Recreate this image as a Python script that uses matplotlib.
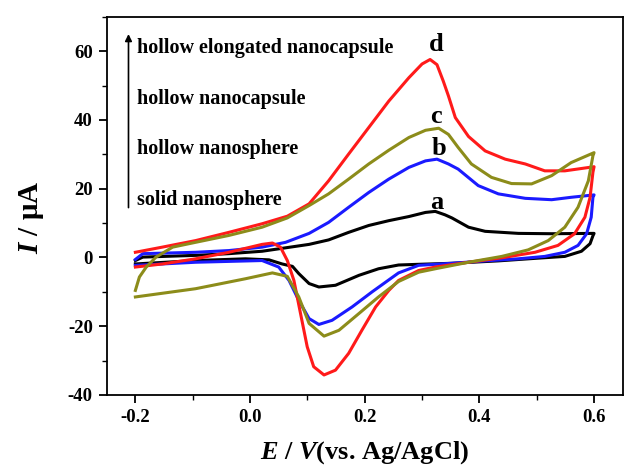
import matplotlib
matplotlib.use("Agg")
import matplotlib.pyplot as plt
from matplotlib.ticker import MultipleLocator

plt.rcParams['font.family'] = ['Liberation Serif', 'DejaVu Serif']
plt.rcParams['font.weight'] = 'bold'
plt.rcParams['mathtext.fontset'] = 'custom'
plt.rcParams['mathtext.it'] = 'Liberation Serif:italic:bold'
plt.rcParams['mathtext.rm'] = 'Liberation Serif:bold'

# ---- data (E in V, I in uA); forward (anodic) then reverse (cathodic) sweep ----
a_fwd_E = [-0.2, -0.187, -0.095, -0.037, 0.021, 0.062, 0.103, 0.137, 0.172, 0.207, 0.242, 0.277, 0.306, 0.323, 0.34, 0.352, 0.381, 0.41, 0.468, 0.526, 0.6]
a_fwd_I = [-0.9, 0.1, 0.6, 1.1, 1.8, 2.8, 3.8, 5.1, 7.3, 9.3, 10.7, 11.9, 13.1, 13.4, 12.4, 11.5, 8.8, 7.6, 7.0, 6.9, 7.0]
a_rev_E = [0.6, 0.598, 0.593, 0.578, 0.549, 0.503, 0.433, 0.352, 0.294, 0.259, 0.224, 0.19, 0.149, 0.12, 0.103, 0.085, 0.074, 0.056, 0.033, -0.008, -0.095, -0.2]
a_rev_I = [7.0, 6.3, 4.0, 1.8, 0.3, -0.2, -1.0, -1.7, -2.0, -2.2, -3.3, -5.2, -8.1, -8.6, -7.6, -4.7, -2.6, -1.9, -0.7, -0.4, -0.9, -1.9]

b_fwd_E = [-0.2, -0.187, -0.095, -0.037, 0.021, 0.062, 0.103, 0.137, 0.172, 0.207, 0.242, 0.277, 0.306, 0.326, 0.346, 0.363, 0.398, 0.433, 0.48, 0.526, 0.56, 0.6]
b_fwd_I = [-0.6, 1.1, 1.5, 2.0, 3.0, 4.4, 7.0, 10.2, 14.6, 18.9, 22.8, 26.2, 28.1, 28.6, 27.2, 25.7, 20.9, 18.5, 17.2, 16.8, 17.5, 18.2]
b_rev_E = [0.6, 0.598, 0.595, 0.587, 0.572, 0.549, 0.514, 0.468, 0.41, 0.352, 0.294, 0.259, 0.213, 0.178, 0.143, 0.12, 0.103, 0.085, 0.068, 0.05, 0.021, -0.095, -0.2]
b_rev_I = [18.2, 17.5, 11.7, 6.9, 3.5, 1.5, 0.3, -0.4, -1.0, -1.7, -2.3, -4.5, -10.0, -14.4, -18.3, -19.5, -17.8, -12.5, -6.7, -2.8, -0.9, -1.4, -2.3]

c_fwd_E = [-0.2, -0.193, -0.181, -0.164, -0.135, -0.095, -0.037, 0.021, 0.065, 0.103, 0.137, 0.172, 0.207, 0.242, 0.277, 0.306, 0.329, 0.346, 0.363, 0.386, 0.421, 0.456, 0.491, 0.526, 0.56, 0.6]
c_fwd_I = [-9.6, -5.7, -2.8, 0.1, 3.0, 4.4, 6.4, 8.8, 11.5, 15.1, 18.5, 22.8, 27.2, 31.2, 34.9, 37.0, 37.6, 35.8, 32.0, 27.2, 23.3, 21.5, 21.4, 23.8, 27.6, 30.5]
c_rev_E = [0.6, 0.598, 0.59, 0.572, 0.549, 0.52, 0.485, 0.439, 0.381, 0.323, 0.294, 0.259, 0.224, 0.19, 0.155, 0.129, 0.103, 0.085, 0.065, 0.039, -0.008, -0.095, -0.2]
c_rev_I = [30.5, 29.6, 22.3, 14.6, 8.8, 4.9, 2.2, 0.3, -1.4, -3.3, -4.3, -7.0, -11.5, -16.3, -21.2, -22.9, -19.2, -11.5, -5.5, -4.5, -6.2, -9.1, -11.5]

d_fwd_E = [-0.2, -0.153, -0.095, -0.037, 0.021, 0.065, 0.103, 0.137, 0.172, 0.207, 0.242, 0.277, 0.30, 0.314, 0.326, 0.337, 0.346, 0.358, 0.381, 0.41, 0.445, 0.48, 0.514, 0.549, 0.6]
d_fwd_I = [1.5, 3.0, 4.9, 7.3, 9.8, 12.0, 15.6, 22.3, 30.1, 37.8, 45.5, 52.3, 56.3, 57.6, 56.1, 51.3, 47.0, 40.7, 35.2, 31.0, 28.6, 27.2, 25.2, 25.2, 26.4]
d_rev_E = [0.6, 0.598, 0.593, 0.584, 0.566, 0.537, 0.497, 0.439, 0.381, 0.323, 0.294, 0.259, 0.242, 0.219, 0.195, 0.172, 0.149, 0.129, 0.111, 0.0997, 0.088, 0.0765, 0.065, 0.053, 0.039, 0.021, -0.037, -0.095, -0.153, -0.2]
d_rev_I = [26.4, 24.8, 17.5, 11.7, 6.9, 3.5, 1.5, -0.1, -1.4, -2.8, -3.8, -6.7, -9.6, -14.4, -21.2, -27.9, -32.8, -34.2, -31.8, -26.0, -16.3, -6.7, -0.9, 3.0, 4.2, 3.8, 1.5, -0.4, -1.9, -2.8]

labels = ['a', 'b', 'c', 'd']
label_pos_E = [0.325, 0.329, 0.325, 0.324]
label_pos_I = [16.0, 31.8, 41.0, 62.0]
legend_texts = ['hollow elongated nanocapsule', 'hollow nanocapsule', 'hollow nanosphere', 'solid nanosphere']
legend_I = [60.9, 46.0, 31.6, 16.8]

colors = ['black', '#1a1aff', '#ff1a1a', '#8c8c1a']

fig = plt.figure(figsize=(6.24, 4.69), dpi=100)
ax = fig.add_axes([0.171, 0.158, 0.827, 0.806])

series = [(a_fwd_E, a_fwd_I, a_rev_E, a_rev_I),
          (b_fwd_E, b_fwd_I, b_rev_E, b_rev_I),
          (d_fwd_E, d_fwd_I, d_rev_E, d_rev_I),
          (c_fwd_E, c_fwd_I, c_rev_E, c_rev_I)]
plot_colors = [colors[0], colors[1], colors[2], colors[3]]
for (fe, fi, re_, ri), col in zip(series, plot_colors):
    ax.plot(list(fe) + list(re_), list(fi) + list(ri), color=col, lw=2.2,
            solid_joinstyle='round')

for lab, le, li in zip(labels, label_pos_E, label_pos_I):
    ax.text(le, li, lab, fontsize=19, fontweight='bold', ha='center', va='center')

for t, li in zip(legend_texts, legend_I):
    ax.text(-0.198, li, t, fontsize=14.5, fontweight='bold', ha='left', va='center')

ax.annotate('', xy=(-0.212, 65.0), xytext=(-0.212, 14.5),
            arrowprops=dict(arrowstyle='-|>', color='black', lw=1.2,
                            mutation_scale=10, shrinkA=0, shrinkB=0))

ax.set_xlim(-0.25, 0.65)
ax.set_ylim(-40, 70)
ax.xaxis.set_minor_locator(MultipleLocator(0.1))
ax.yaxis.set_minor_locator(MultipleLocator(10))
ax.set_xticks([-0.2, 0.0, 0.2, 0.4, 0.6])
ax.set_xticklabels(['-0.2', '0.0', '0.2', '0.4', '0.6'])
ax.set_yticks([-40, -20, 0, 20, 40, 60])
ax.set_yticklabels(['-40', '-20', '0', '20', '40', '60'])
ax.tick_params(which='major', direction='out', length=6, width=1.3, labelsize=13.5, pad=4)
ax.tick_params(which='minor', direction='out', length=3.5, width=1.0)
for lab in ax.get_xticklabels() + ax.get_yticklabels():
    lab.set_fontweight('bold')
for s in ax.spines.values():
    s.set_linewidth(1.3)

ax.set_xlabel(r'$E$ / $V$(vs. Ag/AgCl)', fontsize=19, fontweight='bold')
ax.xaxis.set_label_coords(0.5, -0.118)
ax.set_ylabel(r'$I$ / μA', fontsize=21, fontweight='bold')
ax.yaxis.set_label_coords(-0.118, 0.47)

fig.savefig('out.png', dpi=100)
